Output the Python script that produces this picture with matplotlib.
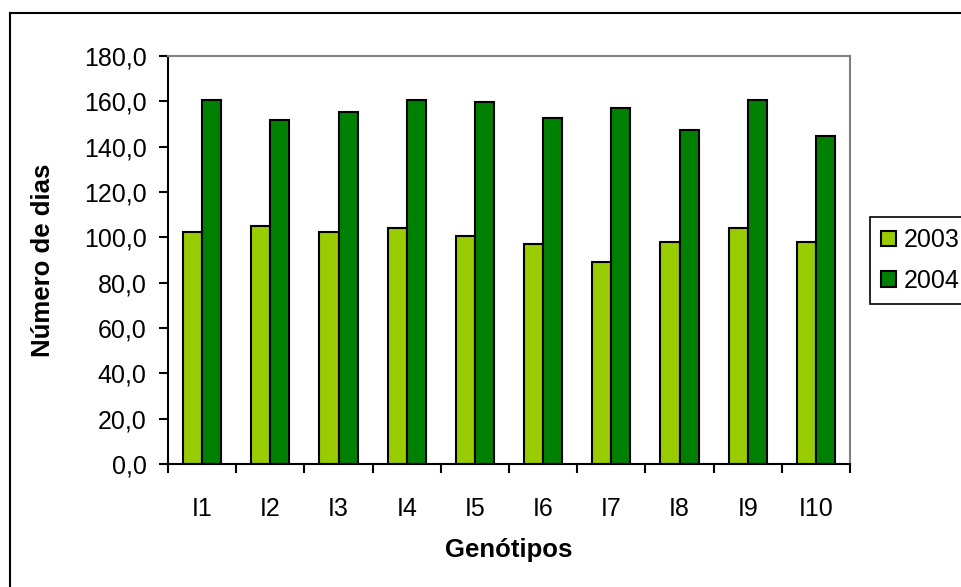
import matplotlib
matplotlib.use('Agg')
from matplotlib import pyplot
from matplotlib.lines import Line2D
from matplotlib.ticker import FuncFormatter, FixedLocator
import numpy as np

genotipos = ['I1', 'I2', 'I3', 'I4', 'I5', 'I6', 'I7', 'I8', 'I9', 'I10']
dias_2003 = [102.3, 105.0, 102.2, 104.2, 100.7, 97.2, 89.2, 98.1, 104.2, 98.1]
dias_2004 = [160.8, 151.8, 155.4, 160.8, 159.8, 152.8, 157.2, 147.5, 160.8, 144.8]

cor_2003 = '#99cc00'
cor_2004 = '#008000'

pyplot.rcParams['font.family'] = ['Liberation Sans', 'DejaVu Sans']

W, H = 961, 587
fig = pyplot.figure(figsize=(W / 100, H / 100), dpi=100)

# area do grafico em pixels: x 168..850, y 56..464
ax = fig.add_axes([168 / W, 1 - 464 / H, 682 / W, 408 / H])

x = np.arange(len(genotipos)) + 0.5
larg = 0.28
ax.bar(x - larg / 2, dias_2003, larg, color=cor_2003, edgecolor='black', linewidth=1.5, label='2003')
ax.bar(x + larg / 2, dias_2004, larg, color=cor_2004, edgecolor='black', linewidth=1.5, label='2004')

ax.set_xlim(0, len(genotipos))
ax.set_ylim(0, 180)
ax.set_yticks(np.arange(0, 181, 20))
ax.yaxis.set_major_formatter(FuncFormatter(lambda v, p: '{:.1f}'.format(v).replace('.', ',')))

# marcas entre categorias, rotulos no centro
ax.xaxis.set_major_locator(FixedLocator(np.arange(0, len(genotipos) + 1)))
ax.xaxis.set_minor_locator(FixedLocator(x))
ax.set_xticklabels([], minor=False)
ax.set_xticklabels(genotipos, minor=True)
ax.tick_params(axis='x', which='major', length=6.5, width=1.5, direction='out')
ax.tick_params(axis='x', which='minor', length=0, pad=24, labelsize=18)
ax.tick_params(axis='y', length=6.5, width=1.5, direction='out', pad=9, labelsize=18)

for s in ['left', 'bottom']:
    ax.spines[s].set_color('black')
    ax.spines[s].set_linewidth(1.5)
for s in ['top', 'right']:
    ax.spines[s].set_color('#808080')
    ax.spines[s].set_linewidth(1.5)

ax.set_xlabel('Genótipos', fontsize=18.5, fontweight='bold')
ax.xaxis.set_label_coords(0.5, -0.182)
ax.set_ylabel('Número de dias', fontsize=18.5, fontweight='bold')
ax.yaxis.set_label_coords(-0.165, 0.5)

leg = fig.legend(loc='upper left', bbox_to_anchor=(870 / W, 1 - 217 / H),
                 fontsize=18, frameon=True, fancybox=False, framealpha=1,
                 edgecolor='black', handlelength=0.6, handleheight=0.6,
                 handletextpad=0.3, borderpad=0.45, labelspacing=0.65, borderaxespad=0)
leg.get_frame().set_linewidth(1.2)

# moldura externa do grafico
fig.add_artist(Line2D([10 / W, 10 / W], [0, 1 - 13 / H], transform=fig.transFigure, color='black', linewidth=1.5))
fig.add_artist(Line2D([10 / W, 1], [1 - 13 / H, 1 - 13 / H], transform=fig.transFigure, color='black', linewidth=1.5))

pyplot.savefig('out.png', dpi=100)
